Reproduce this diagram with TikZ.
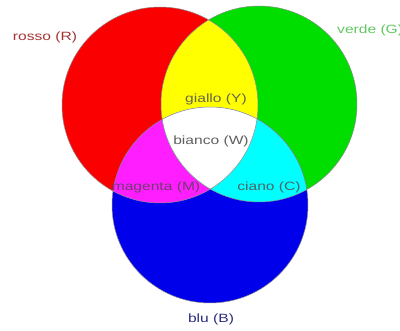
\documentclass[tikz,border=0pt]{standalone}
\usepackage{fontspec}
\setmainfont{Liberation Sans}
\usetikzlibrary{positioning}
\definecolor{rosso}{RGB}{250,0,0}
\definecolor{verde}{RGB}{0,222,0}
\definecolor{blu}{RGB}{0,0,235}
\definecolor{giallo}{RGB}{255,255,0}
\definecolor{magenta}{RGB}{255,30,255}
\definecolor{ciano}{RGB}{0,255,255}
\definecolor{rossotxt}{RGB}{165,50,50}
\definecolor{verdetxt}{RGB}{95,200,95}
\definecolor{blutxt}{RGB}{45,45,130}
\definecolor{grigiotxt}{RGB}{95,95,95}
\newcommand{\lbl}[1]{\scalebox{1.3}[1]{#1}}

\begin{document}
\begin{tikzpicture}[
  x=1pt, y=-1pt,
  ring/.style={draw=black!45, line width=0.5pt},
  tag/.style={font=\fontsize{12}{12}\selectfont, inner sep=0pt}
]
\useasboundingbox (0,0) rectangle (400,331);

\coordinate (cR) at (160,105);
\coordinate (cG) at (259,104);
\coordinate (cB) at (210,205);
\def\rad{98}

% primary circles
\fill[rosso] (cR) circle[radius=\rad];
\fill[verde] (cG) circle[radius=\rad];
\fill[blu] (cB) circle[radius=\rad];

% overlaps
\begin{scope}
  \clip (cR) circle[radius=\rad];
  \fill[giallo] (cG) circle[radius=\rad];
  \fill[magenta] (cB) circle[radius=\rad];
\end{scope}
\begin{scope}
  \clip (cG) circle[radius=\rad];
  \fill[ciano] (cB) circle[radius=\rad];
\end{scope}
\begin{scope}
  \clip (cR) circle[radius=\rad];
  \clip (cG) circle[radius=\rad];
  \fill[white] (cB) circle[radius=\rad];
\end{scope}

\draw[ring] (cR) circle[radius=\rad];
\draw[ring] (cG) circle[radius=\rad];
\draw[ring] (cB) circle[radius=\rad];

% labels
\node[tag, text=rossotxt] (lR) at (45,37) {\lbl{rosso (R)}};
\node[tag, text=verdetxt, anchor=west] (lG) at (337,30) {\lbl{verde (G)}};
\node[tag, text=blutxt] (lB) at (211,319) {\lbl{blu (B)}};
\node[tag, text=grigiotxt!80!olive] (lY) at (216,99) {\lbl{giallo (Y)}};
\node[tag, text=grigiotxt] (lW) at (211,141) {\lbl{bianco (W)}};
\node[tag, text=grigiotxt!70!magenta!80!black] (lM) at (156,187) {\lbl{magenta (M)}};
\node[tag, text=grigiotxt!80!teal] (lC) at (269,187) {\lbl{ciano (C)}};

\end{tikzpicture}
\end{document}
